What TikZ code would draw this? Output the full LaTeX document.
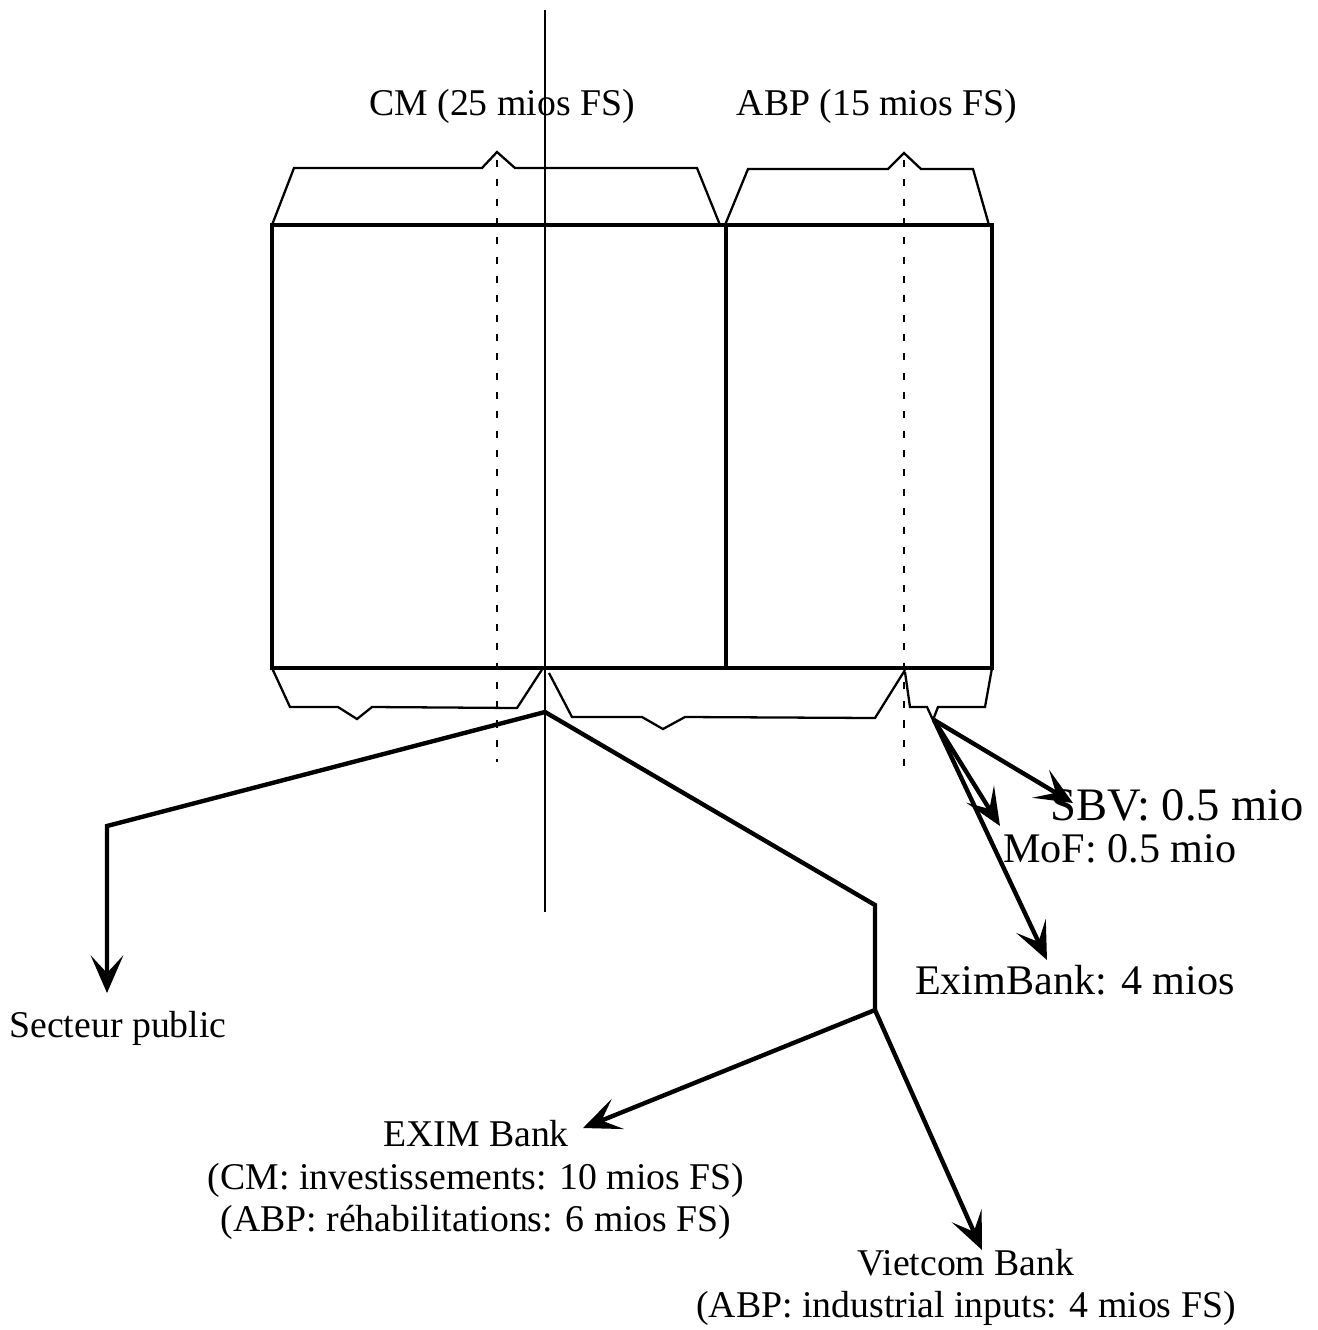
\documentclass[tikz,border=0pt]{standalone}
\usepackage{fontspec}
\setmainfont{Liberation Serif}
\usetikzlibrary{arrows.meta}
\tikzset{
  lbl/.style={font=\fontsize{21.5}{24}\selectfont,inner sep=1pt,align=center},
  lblbig/.style={lbl,font=\fontsize{24}{28}\selectfont},
  frame/.style={draw=black,line width=2pt},
  brk/.style={draw=black,line width=1.3pt},
  guide/.style={draw=black,line width=1pt,dash pattern=on 4pt off 7pt},
  axis/.style={draw=black,line width=0.9pt},
  flow/.style={draw=black,line width=2.5pt},
  ar/.style={flow,-{Stealth[length=7.5mm,width=6.5mm,inset=3.5mm]}},
}

\begin{document}
\begin{tikzpicture}[x=0.02cm,y=-0.02cm]
  \useasboundingbox (0,0) rectangle (1318,1330);
  % labels
  \node[lbl] (cm) at (502,106) {CM (25 mios FS)};
  \node[lbl] (abp) at (877,106) {ABP (15 mios FS)};
  \node[lbl] (secteur) at (118,1028) {Secteur public};
  \node[lbl] (exim) at (476,1180) {EXIM Bank\\(CM: investissements: 10 mios FS)\\(ABP: réhabilitations: 6 mios FS)};
  \node[lbl] (vietcom) at (966,1287) {Vietcom Bank\\(ABP: industrial inputs: 4 mios FS)};
  \node[lblbig,font=\fontsize{26.5}{30}\selectfont,anchor=west] (sbv) at (1048,805) {SBV: 0.5 mio};
  \node[lblbig,anchor=west] (mof) at (1001,849) {MoF: 0.5 mio};
  \node[lblbig] (eximbank) at (1075,980) {EximBank: 4 mios};
  % block with the two programmes
  \draw[frame] (272,225) rectangle (992,668);
  \draw[frame] (726,225) -- (726,668);
  % braces on top
  \draw[brk] (272,225) -- (294,168) -- (482,168) -- (497,152) -- (515,168) -- (697,168) -- (720,225);
  \draw[brk] (725,225) -- (748,169) -- (888,169) -- (904,153) -- (921,169) -- (973,169) -- (989,225);
  % braces below
  \draw[brk] (272,668) -- (290,707) -- (338,707) -- (357,719) -- (372,707) -- (517,708) -- (543,668);
  \draw[brk] (549,673) -- (572,717) -- (642,717) -- (663,729) -- (685,717) -- (875,718) -- (905,670);
  \draw[brk] (905,672) -- (910,707) -- (927,707) -- (933,720) -- (938,707) -- (985,707) -- (992,668);
  % guide lines
  \draw[guide] (497,160) -- (497,762);
  \draw[guide] (904,160) -- (904,768);
  \draw[axis] (545,10) -- (545,912);
  % flows
  \coordinate (hub) at (545,712);
  \coordinate (spk) at (107,826);
  \coordinate (spt) at (107,993);
  \coordinate (jv) at (875,905);
  \coordinate (jb) at (875,1010);
  \coordinate (ext) at (583,1128);
  \coordinate (vct) at (982,1250);
  \coordinate (rh) at (934,720);
  \coordinate (sbvt) at (1073,803);
  \coordinate (moft) at (1000,826);
  \coordinate (ebt) at (1047,960);
  \draw[ar,line join=miter] (hub) -- (spk) -- (spt);
  \draw[flow] (hub) -- (jv) -- (jb);
  \draw[ar] (jb) -- (ext);
  \draw[ar] (jb) -- (vct);
  \draw[ar] (rh) -- (sbvt);
  \draw[ar] (rh) -- (moft);
  \draw[ar] (rh) -- (ebt);
\end{tikzpicture}
\end{document}
